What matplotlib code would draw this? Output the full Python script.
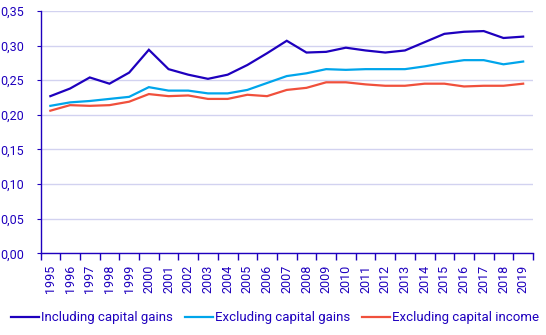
import matplotlib
matplotlib.use("Agg")
import matplotlib.pyplot as plt
from matplotlib.ticker import FuncFormatter, FixedLocator

years = [str(y) for y in range(1995, 2020)]
including_gains = [0.227, 0.238, 0.254, 0.245, 0.261, 0.294, 0.266, 0.258, 0.252, 0.258,
                   0.272, 0.289, 0.307, 0.290, 0.291, 0.297, 0.293, 0.290, 0.293, 0.305,
                   0.317, 0.320, 0.321, 0.311, 0.313]
excluding_gains = [0.213, 0.218, 0.220, 0.223, 0.226, 0.240, 0.235, 0.235, 0.231, 0.231,
                   0.236, 0.246, 0.256, 0.260, 0.266, 0.265, 0.266, 0.266, 0.266, 0.270,
                   0.275, 0.279, 0.279, 0.273, 0.277]
excluding_income = [0.206, 0.214, 0.213, 0.214, 0.219, 0.230, 0.227, 0.228, 0.223, 0.223,
                    0.229, 0.227, 0.236, 0.239, 0.247, 0.247, 0.244, 0.242, 0.242, 0.245,
                    0.245, 0.241, 0.242, 0.242, 0.245]
labels = ["Including capital gains", "Excluding capital gains", "Excluding capital income"]
colors = ["#1E00BE", "#00A5EB", "#F0503C"]

plt.rcParams['font.family'] = ['Roboto', 'DejaVu Sans']
text_color = "#1E00BE"
grid_color = "#D2D2F0"

fig = plt.figure(figsize=(5.46, 3.35), dpi=100)
ax = fig.add_axes([40.5/546, 1 - 253.3/335, (533 - 40.5)/546, (253.3 - 11)/335])

x = list(range(len(years)))
for vals, lab, col in zip([including_gains, excluding_gains, excluding_income], labels, colors):
    ax.plot(x, vals, color=col, lw=1.6, label=lab, solid_joinstyle='miter')

ax.set_xlim(-0.5, len(years) - 0.5)
ax.set_ylim(0, 0.35)
ax.set_yticks([i * 0.05 for i in range(8)])
ax.yaxis.set_major_formatter(FuncFormatter(lambda v, p: f"{v:.2f}".replace(".", ",")))
ax.set_xticks(x)
ax.set_xticklabels(years, rotation=90)
ax.xaxis.set_minor_locator(FixedLocator([i - 0.5 for i in range(len(years) + 1)]))
ax.tick_params(axis='x', which='major', length=0, pad=8, labelsize=9, labelcolor=text_color)
ax.tick_params(axis='x', which='minor', length=5, color=text_color, width=1)
ax.tick_params(axis='y', length=3, color=text_color, labelsize=9, labelcolor=text_color, pad=9)

ax.grid(axis='y', color=grid_color, lw=1)
ax.set_axisbelow(True)
for s in ['top', 'right']:
    ax.spines[s].set_visible(False)
for s in ['left', 'bottom']:
    ax.spines[s].set_color(text_color)
    ax.spines[s].set_linewidth(1)
    ax.spines[s].set_zorder(3)

leg = fig.legend(loc='center', bbox_to_anchor=(275/546, 1 - 318/335), ncol=3, frameon=False,
                 fontsize=9.5, handlelength=2.1, handletextpad=0.15, columnspacing=0.95,
                 borderaxespad=0)
for t in leg.get_texts():
    t.set_color(text_color)

fig.savefig("out.png", dpi=100)
